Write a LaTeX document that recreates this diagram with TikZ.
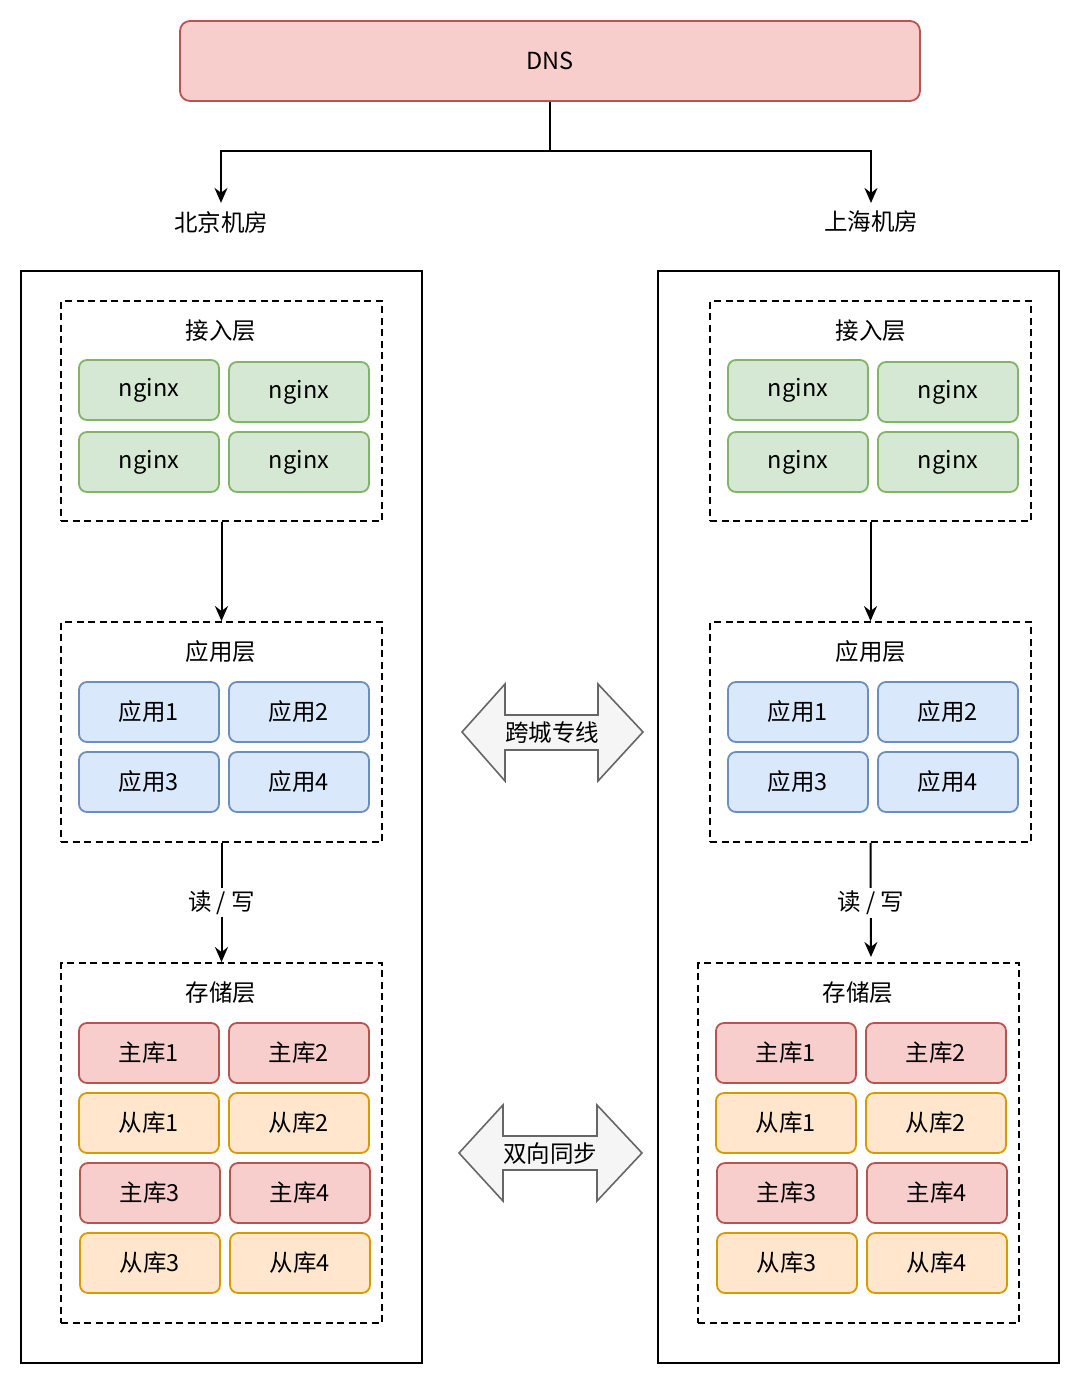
\documentclass[tikz,border=0pt]{standalone}
\usepackage{fontspec}
\setmainfont{Noto Sans CJK SC}
\usetikzlibrary{arrows.meta}
\definecolor{redF}{HTML}{F8CECC}
\definecolor{redD}{HTML}{B85450}
\definecolor{grnF}{HTML}{D5E8D4}
\definecolor{grnD}{HTML}{82B366}
\definecolor{bluF}{HTML}{DAE8FC}
\definecolor{bluD}{HTML}{6C8EBF}
\definecolor{orgF}{HTML}{FFE6CC}
\definecolor{orgD}{HTML}{D79B00}
\definecolor{gryF}{HTML}{F5F5F5}
\definecolor{gryD}{HTML}{666666}
\begin{document}
\begin{tikzpicture}[x=1pt,y=-1pt,
  font=\fontsize{23.5}{28}\selectfont,
  rbox/.style={rounded corners=8pt, line width=1.8pt, minimum width=140pt, minimum height=60pt, inner sep=0pt},
  gbox/.style={rbox, fill=grnF, draw=grnD},
  bbox/.style={rbox, fill=bluF, draw=bluD},
  mbox/.style={rbox, fill=redF, draw=redD},
  sbox/.style={rbox, fill=orgF, draw=orgD},
  room/.style={draw=black, line width=2pt, minimum width=401pt, minimum height=1092pt, inner sep=0pt},
  layer/.style={draw=black, line width=1.8pt, dash pattern=on 7pt off 4.5pt, minimum width=321pt, inner sep=0pt},
  lbl/.style={inner sep=0pt},
  arr/.style={line width=2pt, -{Stealth[length=15pt,width=13pt]}},
  twoway/.style={fill=gryF, draw=gryD, line width=1.6pt, line join=miter}
]
\useasboundingbox (0,0) rectangle (1080,1385);

% DNS
\node[rbox, fill=redF, draw=redD, minimum width=740pt, minimum height=80pt, rounded corners=10pt] (dns) at (550,61) {DNS};
\node[lbl] (bjl) at (221,222) {北京机房};
\node[lbl] (shl) at (871,222) {上海机房};
\draw[arr, shorten >=8pt] (dns.south) -- (550,151) -| (bjl.north);
\draw[arr, shorten >=8pt] (dns.south) -- (550,151) -| (shl.north);

% rooms
\node[room] (bj) at (221.5,817) {};
\node[room] (sh) at (858.5,817) {};

% ---------- Beijing ----------
\node[layer, minimum height=220pt] (bjacc) at (221.5,411) {};
\node[lbl] (bjacct) at (221,331) {接入层};
\node[gbox] (bjn1) at (149,390) {nginx};
\node[gbox] (bjn2) at (299,392) {nginx};
\node[gbox] (bjn3) at (149,462) {nginx};
\node[gbox] (bjn4) at (299,462) {nginx};

\node[layer, minimum height=220pt] (bjapp) at (221.5,732) {};
\node[lbl] (bjappt) at (221,652) {应用层};
\node[bbox] (bja1) at (149,712) {应用1};
\node[bbox] (bja2) at (299,712) {应用2};
\node[bbox] (bja3) at (149,782) {应用3};
\node[bbox] (bja4) at (299,782) {应用4};

\node[layer, minimum height=360pt] (bjsto) at (221.5,1143) {};
\node[lbl] (bjstot) at (221,993) {存储层};
\node[mbox] (bjm1) at (149,1053) {主库1};
\node[mbox] (bjm2) at (299,1053) {主库2};
\node[sbox] (bjs1) at (149,1123) {从库1};
\node[sbox] (bjs2) at (299,1123) {从库2};
\node[mbox] (bjm3) at (150,1193) {主库3};
\node[mbox] (bjm4) at (300,1193) {主库4};
\node[sbox] (bjs3) at (150,1263) {从库3};
\node[sbox] (bjs4) at (300,1263) {从库4};

\draw[arr] (bjacc.south) -- (bjapp.north);
\draw[arr] (bjapp.south) -- node[fill=white, inner sep=3pt] {读 / 写} (bjsto.north);

% ---------- Shanghai ----------
\node[layer, minimum height=220pt] (shacc) at (870.5,411) {};
\node[lbl] (shacct) at (871,331) {接入层};
\node[gbox] (shn1) at (798,390) {nginx};
\node[gbox] (shn2) at (948,392) {nginx};
\node[gbox] (shn3) at (798,462) {nginx};
\node[gbox] (shn4) at (948,462) {nginx};

\node[layer, minimum height=220pt] (shapp) at (870.5,732) {};
\node[lbl] (shappt) at (871,652) {应用层};
\node[bbox] (sha1) at (798,712) {应用1};
\node[bbox] (sha2) at (948,712) {应用2};
\node[bbox] (sha3) at (798,782) {应用3};
\node[bbox] (sha4) at (948,782) {应用4};

\node[layer, minimum height=360pt] (shsto) at (858.5,1143) {};
\node[lbl] (shstot) at (858,993) {存储层};
\node[mbox] (shm1) at (786,1053) {主库1};
\node[mbox] (shm2) at (936,1053) {主库2};
\node[sbox] (shs1) at (786,1123) {从库1};
\node[sbox] (shs2) at (936,1123) {从库2};
\node[mbox] (shm3) at (787,1193) {主库3};
\node[mbox] (shm4) at (937,1193) {主库4};
\node[sbox] (shs3) at (787,1263) {从库3};
\node[sbox] (shs4) at (937,1263) {从库4};

\coordinate (shstoin) at (871,963);
\draw[arr] (shacc.south) -- (shapp.north);
\draw[arr, shorten >=6pt] (shapp.south) -- node[fill=white, inner sep=3pt] {读 / 写} (shstoin);

% ---------- two-way arrows ----------
\draw[twoway] (462,732) -- (505,684) -- (505,715) -- (598,715) -- (598,684) -- (643,732)
  -- (598,781) -- (598,750) -- (505,750) -- (505,781) -- cycle;
\node[lbl] (line) at (552,733) {跨城专线};
\draw[twoway] (459,1153) -- (503,1105) -- (503,1136) -- (597,1136) -- (597,1105) -- (642,1153)
  -- (597,1201) -- (597,1170) -- (503,1170) -- (503,1201) -- cycle;
\node[lbl] (sync) at (550,1154) {双向同步};
\end{tikzpicture}
\end{document}
